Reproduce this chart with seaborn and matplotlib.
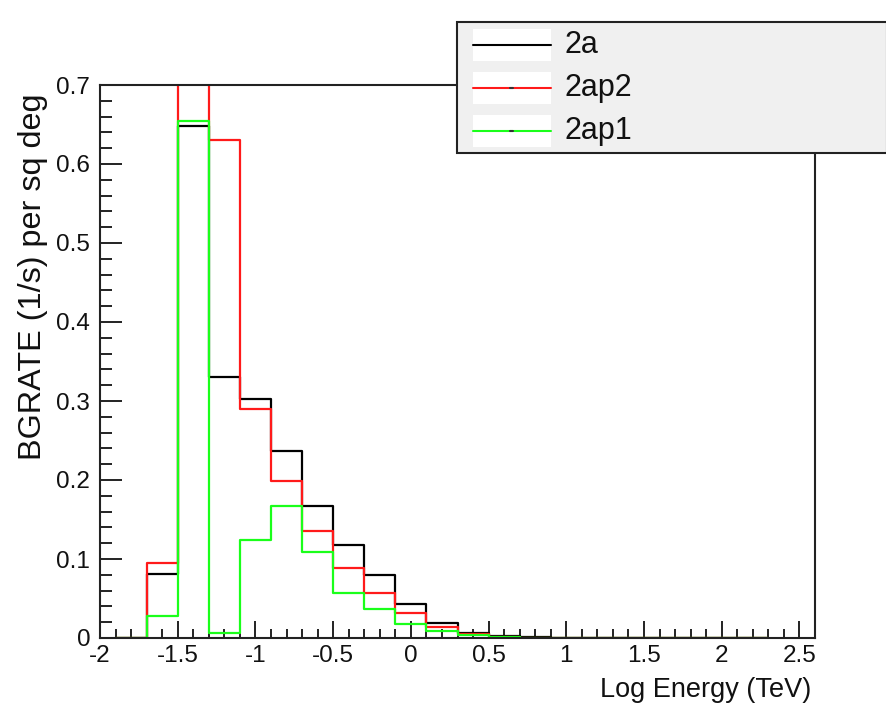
import numpy as np
import pandas as pd
import matplotlib
matplotlib.use("Agg")
import matplotlib.pyplot as plt
from matplotlib.patches import Rectangle
from matplotlib.lines import Line2D
from matplotlib.ticker import MultipleLocator, FormatStrFormatter
import seaborn as sns

# Histogram binning: log10(E/TeV), 0.2 wide bins from -1.9 to 2.3
bin_edges = [round(-1.9 + 0.2 * i, 2) for i in range(22)]
bin_centers = [round(e + 0.1, 2) for e in bin_edges[:-1]]

# Background rate per bin (1/s per sq deg)
rate_2a = [0.0, 0.081, 0.648, 0.330, 0.302, 0.237, 0.167, 0.118, 0.080, 0.0425,
           0.0195, 0.0067, 0.0025, 0.0017, 0.0, 0.0, 0.0, 0.0, 0.0, 0.0, 0.0]
rate_2ap2 = [0.0, 0.095, 0.745, 0.630, 0.2895, 0.199, 0.135, 0.0886, 0.057, 0.032,
             0.0143, 0.005, 0.0015, 0.0, 0.0, 0.0, 0.0, 0.0, 0.0, 0.0, 0.0]
rate_2ap1 = [0.0, 0.028, 0.655, 0.0067, 0.124, 0.1675, 0.1084, 0.0574, 0.037, 0.0177,
             0.0089, 0.004, 0.001, 0.0, 0.0, 0.0, 0.0, 0.0, 0.0, 0.0, 0.0]

series_names = ["2a", "2ap2", "2ap1"]
series_rates = [rate_2a, rate_2ap2, rate_2ap1]
series_colors = ["#000000", "#ff1a1a", "#1aff1a"]

sns.set_style("white")
plt.rcParams["font.family"] = ["Liberation Sans", "DejaVu Sans"]
plt.rcParams["axes.unicode_minus"] = False
plt.rcParams["text.color"] = "#111111"

fig = plt.figure(figsize=(8.87, 7.04), dpi=100)
ax = fig.add_axes([100 / 887, 1 - 638 / 704, 715 / 887, 553 / 704])

for name, rates, color in zip(series_names, series_rates, series_colors):
    df = pd.DataFrame({"logE": bin_centers, "rate": rates})
    sns.histplot(data=df, x="logE", weights="rate", bins=bin_edges,
                 element="step", fill=False, color=color, linewidth=1.6,
                 ax=ax, label=name)

ax.set_xlim(-2.0, 2.6)
ax.set_ylim(0.0, 0.7)

ax.xaxis.set_major_locator(MultipleLocator(0.5))
ax.xaxis.set_minor_locator(MultipleLocator(0.1))
ax.yaxis.set_major_locator(MultipleLocator(0.1))
ax.yaxis.set_minor_locator(MultipleLocator(0.02))
ax.xaxis.set_major_formatter(FormatStrFormatter("%g"))
ax.yaxis.set_major_formatter(FormatStrFormatter("%g"))

ax.tick_params(axis="x", which="major", direction="in", length=12, width=1.4,
               labelsize=17.5, pad=5, bottom=True, top=False,
               color="#222222", labelcolor="#111111")
ax.tick_params(axis="x", which="minor", direction="in", length=6.5, width=1.4,
               bottom=True, top=False, color="#222222")
ax.tick_params(axis="y", which="major", direction="in", length=16, width=1.4,
               labelsize=17.5, pad=7, left=True, right=False,
               color="#222222", labelcolor="#111111")
ax.tick_params(axis="y", which="minor", direction="in", length=8.5, width=1.4,
               left=True, right=False, color="#222222")

for side in ["left", "bottom", "top", "right"]:
    ax.spines[side].set_visible(True)
    ax.spines[side].set_color("#222222")
    ax.spines[side].set_linewidth(1.5)

ax.set_xlabel("")
ax.set_ylabel("")
fig.text(811 / 887, 1 - 690 / 704, "Log Energy (TeV)", ha="right", va="center",
         fontsize=19.5)
fig.text(33 / 887, 1 - 94 / 704, "BGRATE (1/s) per sq deg", ha="center", va="top",
         rotation=90, fontsize=23.3)

# Legend panel
fig.patches.append(Rectangle((457 / 887, 1 - 153 / 704), 430 / 887, 131 / 704,
                             transform=fig.transFigure, facecolor="#f0f0f0",
                             edgecolor="#222222", linewidth=1.5, zorder=5))
row_y = [45, 88, 131]
for name, color, ry in zip(series_names, series_colors, row_y):
    yc = 1 - ry / 704
    fig.patches.append(Rectangle((473 / 887, yc - 16 / 704), 78 / 887, 32 / 704,
                                 transform=fig.transFigure, facecolor="white",
                                 edgecolor="none", zorder=6))
    fig.lines.append(Line2D([473 / 887, 551 / 887], [yc, yc], transform=fig.transFigure,
                            color=color, linewidth=1.5, zorder=7))
    if name != "2a":
        fig.lines.append(Line2D([510 / 887, 513 / 887], [yc, yc], transform=fig.transFigure,
                                color="#333333", linewidth=1.5, zorder=8))
    fig.text(565 / 887, yc, name, ha="left", va="center", fontsize=22, zorder=9)

fig.savefig("out.png", dpi=100, facecolor="white")
